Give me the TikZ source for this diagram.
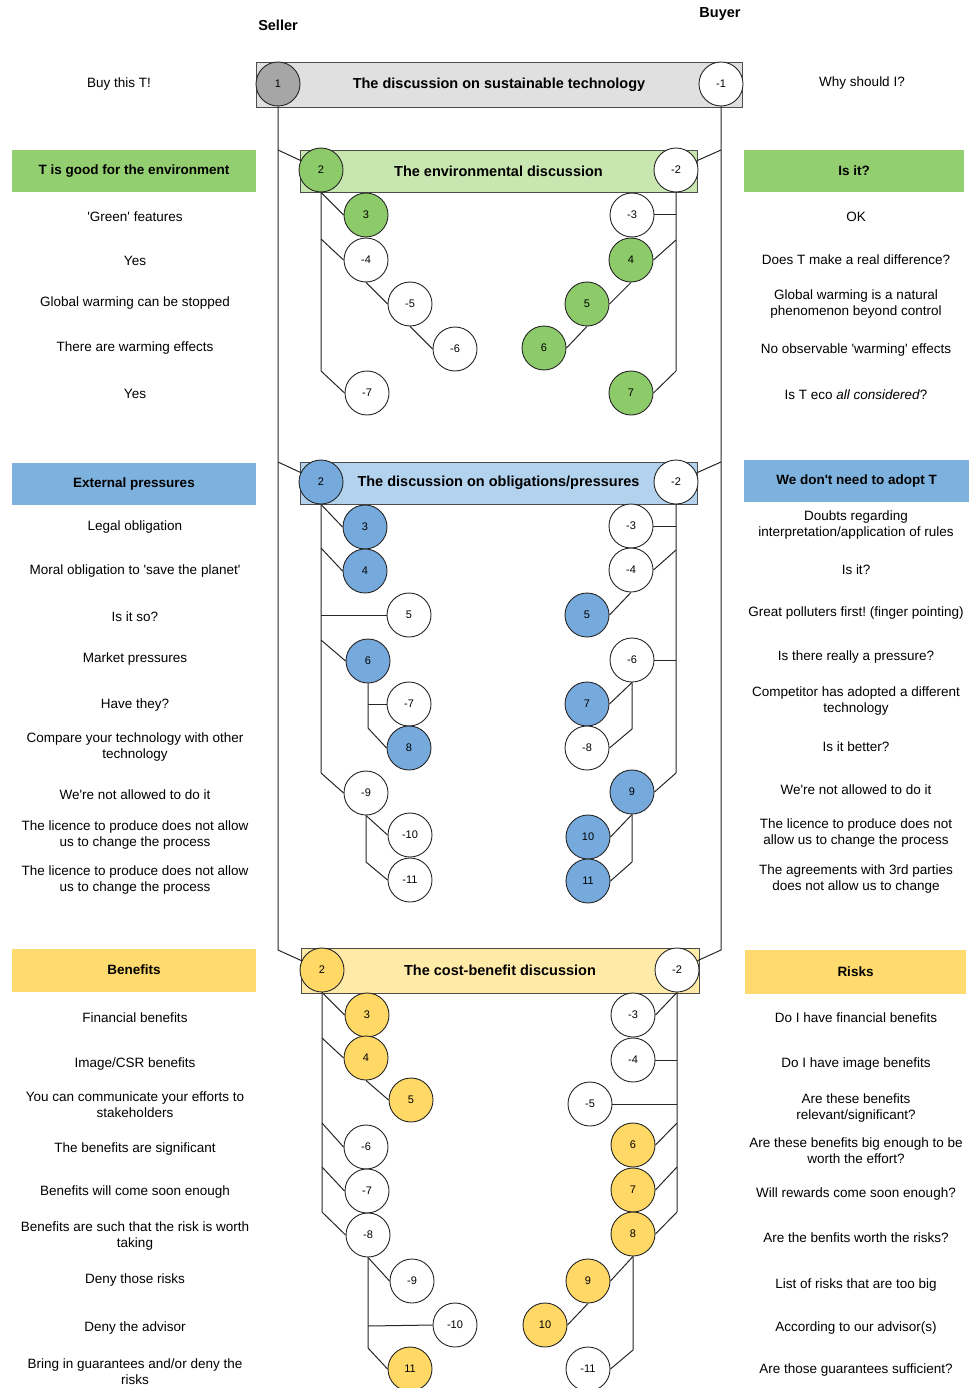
\documentclass[tikz,border=0pt]{standalone}
\usepackage{fontspec}
\setmainfont{Liberation Sans}[Ligatures=TeXOff]

\definecolor{BarGray}{RGB}{224,224,224}
\definecolor{ArgGray}{RGB}{166,166,166}
\definecolor{HeadGreen}{RGB}{147,206,112}
\definecolor{BarGreen}{RGB}{200,230,176}
\definecolor{ArgGreen}{RGB}{141,203,106}
\definecolor{HeadBlue}{RGB}{126,178,222}
\definecolor{BarBlue}{RGB}{178,210,238}
\definecolor{ArgBlue}{RGB}{118,170,220}
\definecolor{HeadYellow}{RGB}{255,218,110}
\definecolor{BarYellow}{RGB}{255,234,168}
\definecolor{ArgYellow}{RGB}{255,216,102}

\begin{document}
\frenchspacing
\begin{tikzpicture}[x = 1pt, y = -1pt]
\tikzstyle{Arg}=[shape = circle,
                 minimum size = 44pt,
                 inner sep = 0pt,
                 draw = black!85, line width = 0.9pt,
                 fill = white,
                 font = \fontsize{11}{13}\selectfont]
\tikzstyle{Bar}=[draw = black!70, line width = 0.9pt, inner sep = 0pt,
                 font = \fontsize{14.5}{17}\selectfont\bfseries]
\tikzstyle{Head}=[inner sep = 0pt, font = \fontsize{13.5}{16}\selectfont\bfseries]
\tikzstyle{Role}=[font = \fontsize{14.5}{17}\selectfont\bfseries]
\tikzstyle{Txt}=[align = center, yshift = -1.5pt, font = \fontsize{13.5}{16}\selectfont]
\tikzstyle{Link}=[draw = black!85, line width = 1pt]

\useasboundingbox (0,0) rectangle (971,1388);

% roles and opening statement
\node[Role] (seller) at (278,25) {Seller};
\node[Role] (buyer) at (720,14) {Buyer};
\node[Txt] (s0) at (119,83) {Buy this T!};
\node[Txt] (r0) at (862,82) {Why should I?};
\node[Bar, fill = BarGray, minimum width = 486pt, minimum height = 45pt] (tbar) at (499,84.5) {The discussion on sustainable technology};

% environmental discussion
\node[Head, fill = HeadGreen, minimum width = 244pt, minimum height = 42pt] (gsh) at (134,171) {T is good for the environment};
\node[Head, fill = HeadGreen, minimum width = 220pt, minimum height = 42pt] (gbh) at (854,171) {Is it?};
\node[Bar, fill = BarGreen, minimum width = 397pt, minimum height = 42pt] (gbar) at (498.5,171) {The environmental discussion};
\node[Txt] (gst3) at (135,215) {'Green' features};
\node[Txt] (gst4) at (135,259) {Yes};
\node[Txt] (gst5) at (135,302) {Global warming can be stopped};
\node[Txt] (gst6) at (135,347) {There are warming effects};
\node[Txt] (gst7) at (135,392) {Yes};
\node[Txt] (gbt3) at (856,215) {OK};
\node[Txt] (gbt4) at (856,258) {Does T make a real difference?};
\node[Txt] (gbt5) at (856,303) {Global warming is a natural\\phenomenon beyond control};
\node[Txt] (gbt6) at (856,349) {No observable 'warming' effects};
\node[Txt] (gbt7) at (856,393) {Is T eco \textit{all considered}?};

% obligations / pressures
\node[Head, fill = HeadBlue, minimum width = 244pt, minimum height = 42pt] (bsh) at (134,484) {External pressures};
\node[Head, fill = HeadBlue, minimum width = 225pt, minimum height = 42pt] (bbh) at (856.5,481) {We don't need to adopt T};
\node[Bar, fill = BarBlue, minimum width = 397pt, minimum height = 42pt] (bbar) at (498.5,483) {The discussion on obligations/pressures};
\node[Txt] (bst3) at (135,526) {Legal obligation};
\node[Txt] (bst4) at (135,570) {Moral obligation to 'save the planet'};
\node[Txt] (bst5) at (135,615) {Is it so?};
\node[Txt] (bst6) at (135,658) {Market pressures};
\node[Txt] (bst7) at (135,704) {Have they?};
\node[Txt] (bst8) at (135,746) {Compare your technology with other\\technology};
\node[Txt] (bst9) at (135,793) {We're not allowed to do it};
\node[Txt] (bst10) at (135,833) {The licence to produce does not allow\\us to change the process};
\node[Txt] (bst11) at (135,878) {The licence to produce does not allow\\us to change the process};
\node[Txt] (bbt3) at (856,524) {Doubts regarding\\interpretation/application of rules};
\node[Txt] (bbt4) at (856,568) {Is it?};
\node[Txt] (bbt5) at (856,612) {Great polluters first! (finger pointing)};
\node[Txt] (bbt6) at (856,656) {Is there really a pressure?};
\node[Txt] (bbt7) at (856,700) {Competitor has adopted a different\\technology};
\node[Txt] (bbt8) at (856,745) {Is it better?};
\node[Txt] (bbt9) at (856,788) {We're not allowed to do it};
\node[Txt] (bbt10) at (856,832) {The licence to produce does not\\allow us to change the process};
\node[Txt] (bbt11) at (856,877) {The agreements with 3rd parties\\does not allow us to change};

% cost-benefit discussion
\node[Head, fill = HeadYellow, minimum width = 244pt, minimum height = 43pt] (ysh) at (134,970) {Benefits};
\node[Head, fill = HeadYellow, minimum width = 221pt, minimum height = 44pt] (ybh) at (855.5,972) {Risks};
\node[Bar, fill = BarYellow, minimum width = 398pt, minimum height = 45pt] (ybar) at (500,970.5) {The cost-benefit discussion};
\node[Txt] (yst3) at (135,1016) {Financial benefits};
\node[Txt] (yst4) at (135,1062) {Image/CSR benefits};
\node[Txt] (yst5) at (135,1103) {You can communicate your efforts to\\stakeholders};
\node[Txt] (yst6) at (135,1147) {The benefits are significant};
\node[Txt] (yst7) at (135,1190) {Benefits will come soon enough};
\node[Txt] (yst8) at (135,1234) {Benefits are such that the risk is worth\\taking};
\node[Txt] (yst9) at (135,1278) {Deny those risks};
\node[Txt] (yst10) at (135,1326) {Deny the advisor};
\node[Txt] (yst11) at (135,1370) {Bring in guarantees and/or deny the\\risks};
\node[Txt] (ybt3) at (856,1016) {Do I have financial benefits};
\node[Txt] (ybt4) at (856,1062) {Do I have image benefits};
\node[Txt] (ybt5) at (856,1106) {Are these benefits\\relevant/significant?};
\node[Txt] (ybt6) at (856,1149) {Are these benefits big enough to be\\worth the effort?};
\node[Txt] (ybt7) at (856,1192) {Will rewards come soon enough?};
\node[Txt] (ybt8) at (856,1236) {Are the benfits worth the risks?};
\node[Txt] (ybt9) at (856,1283) {List of risks that are too big};
\node[Txt] (ybt10) at (856,1326) {According to our advisor(s)};
\node[Txt] (ybt11) at (856,1368) {Are those guarantees sufficient?};

% arguments
\node[Arg, fill = ArgGray] (ts1) at (278,84) {1};
\node[Arg] (tb1) at (721,84) {-1};

\node[Arg, fill = ArgGreen] (gs2) at (321,170) {2};
\node[Arg] (gb2) at (676,170) {-2};
\node[Arg, fill = ArgGreen] (gs3) at (366,215) {3};
\node[Arg] (gs4) at (366,260) {-4};
\node[Arg] (gs5) at (410,304) {-5};
\node[Arg] (gs6) at (455,349) {-6};
\node[Arg] (gs7) at (367,393) {-7};
\node[Arg] (gb3) at (632,215) {-3};
\node[Arg, fill = ArgGreen] (gb4) at (631,260) {4};
\node[Arg, fill = ArgGreen] (gb5) at (587,304) {5};
\node[Arg, fill = ArgGreen] (gb6) at (544,348) {6};
\node[Arg, fill = ArgGreen] (gb7) at (631,393) {7};

\node[Arg, fill = ArgBlue] (bs2) at (321,482) {2};
\node[Arg] (bb2) at (676,482) {-2};
\node[Arg, fill = ArgBlue] (bs3) at (365,527) {3};
\node[Arg, fill = ArgBlue] (bs4) at (365,571) {4};
\node[Arg] (bs5) at (409,615) {5};
\node[Arg, fill = ArgBlue] (bs6) at (368,661) {6};
\node[Arg] (bs7) at (409,704) {-7};
\node[Arg, fill = ArgBlue] (bs8) at (409,748) {8};
\node[Arg] (bs9) at (366,793) {-9};
\node[Arg] (bs10) at (410,835) {-10};
\node[Arg] (bs11) at (410,880) {-11};
\node[Arg] (bb3) at (631,526) {-3};
\node[Arg] (bb4) at (631,570) {-4};
\node[Arg, fill = ArgBlue] (bb5) at (587,615) {5};
\node[Arg] (bb6) at (632,660) {-6};
\node[Arg, fill = ArgBlue] (bb7) at (587,704) {7};
\node[Arg] (bb8) at (587,748) {-8};
\node[Arg, fill = ArgBlue] (bb9) at (632,792) {9};
\node[Arg, fill = ArgBlue] (bb10) at (588,837) {10};
\node[Arg, fill = ArgBlue] (bb11) at (588,881) {11};

\node[Arg, fill = ArgYellow] (ys2) at (322,970) {2};
\node[Arg] (yb2) at (677,970) {-2};
\node[Arg, fill = ArgYellow] (ys3) at (367,1015) {3};
\node[Arg, fill = ArgYellow] (ys4) at (366,1058) {4};
\node[Arg, fill = ArgYellow] (ys5) at (411,1100) {5};
\node[Arg] (ys6) at (366,1147) {-6};
\node[Arg] (ys7) at (367,1191) {-7};
\node[Arg] (ys8) at (368,1235) {-8};
\node[Arg] (ys9) at (412,1281) {-9};
\node[Arg] (ys10) at (455,1325) {-10};
\node[Arg, fill = ArgYellow] (ys11) at (410,1369) {11};
\node[Arg] (yb3) at (633,1015) {-3};
\node[Arg] (yb4) at (633,1060) {-4};
\node[Arg] (yb5) at (590,1104) {-5};
\node[Arg, fill = ArgYellow] (yb6) at (633,1145) {6};
\node[Arg, fill = ArgYellow] (yb7) at (633,1190) {7};
\node[Arg, fill = ArgYellow] (yb8) at (633,1234) {8};
\node[Arg, fill = ArgYellow] (yb9) at (588,1281) {9};
\node[Arg, fill = ArgYellow] (yb10) at (545,1325) {10};
\node[Arg] (yb11) at (588,1369) {-11};

% main spines
\coordinate (mS1) at (278,150);
\coordinate (mS2) at (278,462);
\coordinate (mS3) at (278,950);
\coordinate (mB1) at (721,150);
\coordinate (mB2) at (721,462);
\coordinate (mB3) at (721,950);
\draw[Link] (ts1) -- (mS3) -- (ys2);
\draw[Link] (mS1) -- (gs2);
\draw[Link] (mS2) -- (bs2);
\draw[Link] (tb1) -- (mB3) -- (yb2);
\draw[Link] (mB1) -- (gb2);
\draw[Link] (mB2) -- (bb2);

% environmental links
\coordinate (gS1) at (321,239);
\coordinate (gS2) at (321,371);
\draw[Link] (gs2.south) -- (gs3.west);
\draw[Link] (gs2.south) -- (gS2) -- (gs7.west);
\draw[Link] (gS1) -- (gs4.west);
\draw[Link] (gs4.south) -- (gs5.west);
\draw[Link] (gs5.south) -- (gs6.west);
\coordinate (gB1) at (676,215);
\coordinate (gB2) at (676,240);
\coordinate (gB3) at (676,371);
\draw[Link] (gb2.south) -- (gB3) -- (gb7.east);
\draw[Link] (gB1) -- (gb3.east);
\draw[Link] (gB2) -- (gb4.east);
\draw[Link] (gb4.south) -- (gb5.east);
\draw[Link] (gb5.south) -- (gb6.east);

% obligations links
\coordinate (bS1) at (321,548);
\coordinate (bS2) at (321,615);
\coordinate (bS3) at (321,640);
\coordinate (bS4) at (321,773);
\coordinate (bS5) at (368,704);
\coordinate (bS6) at (368,728);
\coordinate (bS7) at (366,862);
\draw[Link] (bs2.south) -- (bS4) -- (bs9.west);
\draw[Link] (bs2.south) -- (bs3.west);
\draw[Link] (bS1) -- (bs4.west);
\draw[Link] (bS2) -- (bs5.west);
\draw[Link] (bS3) -- (bs6.west);
\draw[Link] (bs6.south) -- (bS6) -- (bs8.west);
\draw[Link] (bS5) -- (bs7.west);
\draw[Link] (bs9.south) -- (bs10.west);
\draw[Link] (bs9.south) -- (bS7) -- (bs11.west);
\coordinate (bB1) at (676,526);
\coordinate (bB2) at (676,550);
\coordinate (bB3) at (676,660);
\coordinate (bB4) at (676,773);
\coordinate (bB5) at (632,729);
\coordinate (bB6) at (632,862);
\draw[Link] (bb2.south) -- (bB4) -- (bb9.east);
\draw[Link] (bB1) -- (bb3.east);
\draw[Link] (bB2) -- (bb4.east);
\draw[Link] (bb4.south) -- (bb5.east);
\draw[Link] (bB3) -- (bb6.east);
\draw[Link] (bb6.south) -- (bb7.east);
\draw[Link] (bb6.south) -- (bB5) -- (bb8.east);
\draw[Link] (bb9.south) -- (bb10.east);
\draw[Link] (bb9.south) -- (bB6) -- (bb11.east);

% cost-benefit links
\coordinate (yS1) at (322,1038);
\coordinate (yS2) at (322,1123);
\coordinate (yS3) at (322,1167);
\coordinate (yS4) at (322,1212);
\coordinate (yS5) at (368,1326);
\coordinate (yS6) at (368,1348);
\draw[Link] (ys2.south) -- (yS4) -- (ys8.west);
\draw[Link] (ys2.south) -- (ys3.west);
\draw[Link] (yS1) -- (ys4.west);
\draw[Link] (ys4.south) -- (ys5.west);
\draw[Link] (yS2) -- (ys6.west);
\draw[Link] (yS3) -- (ys7.west);
\draw[Link] (ys8.south) -- (ys9.west);
\draw[Link] (ys8.south) -- (yS6) -- (ys11.west);
\draw[Link] (yS5) -- (ys10.west);
\coordinate (yB1) at (677,1060);
\coordinate (yB2) at (677,1104);
\coordinate (yB3) at (677,1123);
\coordinate (yB4) at (677,1167);
\coordinate (yB5) at (677,1212);
\coordinate (yB6) at (633,1350);
\draw[Link] (yb2.south) -- (yB5) -- (yb8.east);
\draw[Link] (yb2.south) -- (yb3.east);
\draw[Link] (yB1) -- (yb4.east);
\draw[Link] (yB2) -- (yb5.east);
\draw[Link] (yB3) -- (yb6.east);
\draw[Link] (yB4) -- (yb7.east);
\draw[Link] (yb8.south) -- (yb9.east);
\draw[Link] (yb8.south) -- (yB6) -- (yb11.east);
\draw[Link] (yb9.south) -- (yb10.east);
\end{tikzpicture}
\end{document}
